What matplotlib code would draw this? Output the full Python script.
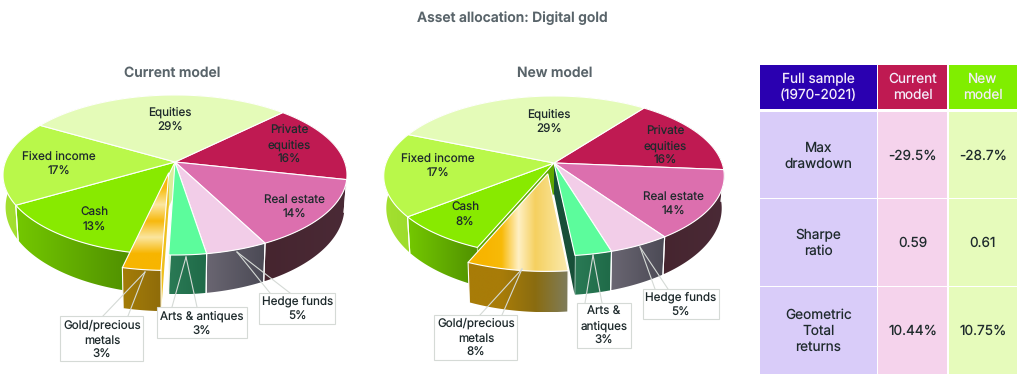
#!/usr/bin/env python3
"""Asset allocation chart: two exploded perspective pies and a small table."""

import numpy as np
import matplotlib
matplotlib.use("Agg")
import matplotlib.pyplot as plt
from matplotlib.colors import LinearSegmentedColormap
from matplotlib.patches import Polygon, Rectangle

plt.rcParams["font.family"] = ["Inter", "DejaVu Sans"]
plt.rcParams["text.hinting"] = "no_hinting"
plt.rcParams["text.hinting_factor"] = 1

# Data
SLICE_NAMES = ["Private\nequities", "Real estate", "Hedge funds", "Arts & antiques",
               "Gold/precious\nmetals", "Cash", "Fixed income", "Equities"]
CURRENT_VALUES = [16, 14, 5, 3, 3, 13, 17, 29]
NEW_VALUES = [16, 14, 5, 3, 8, 8, 17, 29]

TABLE_HEADER = ["Full sample\n(1970-2021)", "Current\nmodel", "New\nmodel"]
TABLE_ROWS = ["Max\ndrawdown", "Sharpe\nratio", "Geometric\nTotal\nreturns"]
TABLE_CURRENT = ["-29.5%", "0.59", "10.44%"]
TABLE_NEW = ["-28.7%", "0.61", "10.75%"]

# Styles
TOP_COLORS = ["#bf1a52", "#dc6fae", "#f2cde8", "#5cfc9c", "#f7b500", "#88ea00", "#b9f84a", "#e4fbb8"]
WALL_COLORS = [
    ["#47272f", "#47272f"],
    ["#4a2a36", "#46252f"],
    ["#4b4a55", "#6a6672"],
    ["#1f6a48", "#2a7a55"],
    ["#8f6c0a", "#a57d08"],
    ["#4f8f00", "#74c800"],
    ["#9cdc2c", "#a4e030"],
    ["#c0d890", "#c0d890"],
]
TEXT_DARK = "#1e2a2c"
TITLE_GREY = "#59646a"
BOX_EDGE = "#d5dad6"
K = 0.1625  # perspective strength
GOLD = 4    # index of the exploded slice
EXPLODE = (-0.036, -0.135)


def project(u, v, pie):
    """Pie plane (unit circle) to pixel position."""
    w = 1 + K * v
    return pie["cx"] + pie["rx"] * u / w, pie["cy"] - pie["ry"] * v / w


def drop(x, y, pie):
    """Same point on the underside of the pie."""
    return pie["cx"] + (x - pie["cx"]) * 0.985, y + 31 + 0.09 * (y - pie["cy"])


def edges(values, start):
    return start - np.cumsum([0] + list(values)) * 3.6


def arc(a, b, pie, shift=(0, 0), n=60):
    t = np.radians(np.linspace(a, b, n))
    return project(np.cos(t) + shift[0], np.sin(t) + shift[1], pie)


def ramp_fill(ax, pts, colors, axis, zorder):
    """Gradient image clipped to a polygon."""
    x0, x1 = pts[:, 0].min(), pts[:, 0].max()
    y0, y1 = pts[:, 1].min(), pts[:, 1].max()
    cmap = LinearSegmentedColormap.from_list("ramp", colors)
    ramp = np.linspace(0, 1, 256)
    grid = ramp[:, None] if axis == "y" else ramp[None, :]
    im = ax.imshow(cmap(grid), extent=(x0, x1, y1, y0), aspect="auto", zorder=zorder,
                   interpolation="bilinear")
    im.set_clip_path(Polygon(pts, transform=ax.transData))


def draw_wall(ax, a, b, colors, pie, shift=(0, 0), zorder=2):
    """Outer wall of one slice; colors run from screen right to screen left."""
    x, y = arc(a, b, pie, shift, 60)
    xb, yb = drop(x, y, pie)
    pts = np.vstack([np.column_stack([x, y]), np.column_stack([xb, yb])[::-1]])
    ramp_fill(ax, pts, colors[::-1], "x", zorder)
    for i in (0, -1):
        ax.plot([x[i], xb[i]], [y[i], yb[i]], color="white", lw=0.8, zorder=zorder + 0.1)


def draw_cut(ax, angle, color, pie, shift=(0, 0), zorder=2.5):
    """Inner face of a slice, seen where the gold slice has moved away."""
    t = np.radians(angle)
    hx, hy = project(shift[0], shift[1], pie)
    x, y = project(np.cos(t) + shift[0], np.sin(t) + shift[1], pie)
    pts = [(hx, hy), (x, y), drop(x, y, pie), drop(hx, hy, pie)]
    ax.add_patch(Polygon(pts, facecolor=color, edgecolor="none", zorder=zorder))


def wedge_points(a, b, pie, shift=(0, 0)):
    x, y = arc(a, b, pie, shift)
    hx, hy = project(shift[0], shift[1], pie)
    return np.vstack([[hx, hy], np.column_stack([x, y])])


def draw_box(ax, box, anchor, feet):
    x0, x1, y0, y1 = box
    for fx, fy in feet:
        ax.plot([anchor[0], fx], [anchor[1], fy], color=BOX_EDGE, lw=0.8, zorder=6)
    ax.add_patch(Rectangle((x0, y0), x1 - x0, y1 - y0, facecolor="white",
                           edgecolor=BOX_EDGE, linewidth=0.8, zorder=7))


def draw_pie(ax, values, pie):
    ang = edges(values, pie["start"])
    # walls of the slices that stay in place
    for i in range(len(values)):
        if i != GOLD:
            draw_wall(ax, ang[i], ang[i + 1], WALL_COLORS[i], pie)
    draw_cut(ax, ang[GOLD], pie["arts_cut"], pie)
    draw_cut(ax, ang[GOLD + 1], pie["cash_cut"], pie)
    for i in range(len(values)):
        if i == GOLD:
            continue
        ax.add_patch(Polygon(wedge_points(ang[i], ang[i + 1], pie), facecolor=TOP_COLORS[i],
                             edgecolor="white", linewidth=0.8, zorder=3))
    # exploded gold slice
    draw_cut(ax, ang[GOLD], "#efc01c", pie, EXPLODE, zorder=3.5)
    draw_wall(ax, ang[GOLD], ang[GOLD + 1], pie["gold_wall"], pie, EXPLODE, zorder=4)
    gold_pts = wedge_points(ang[GOLD], ang[GOLD + 1], pie, EXPLODE)
    ramp_fill(ax, gold_pts, pie["gold"], pie["gold_axis"], 5)
    ax.add_patch(Polygon(gold_pts, facecolor="none", edgecolor="white", linewidth=0.8, zorder=5.1))

    ax.text(pie["cx"] + pie["title_dx"], 73, pie["title"], ha="center", va="center",
            fontsize=10, fontweight="semibold", color=TITLE_GREY)
    for name, val, (x, y), box, anchor, feet in zip(SLICE_NAMES, values, pie["labels"], pie["boxes"],
                                                    pie["anchors"], pie["feet"]):
        if box is not None:
            draw_box(ax, box, anchor, feet)
        label = pie["names"].get(name, name)
        ax.text(x, y, f"{label}\n{val}%", ha="center", va="center", fontsize=8.4,
                color=TEXT_DARK, linespacing=1.42, zorder=8)


CURRENT_PIE = dict(
    cx=175, cy=162, rx=169.7, ry=77.9, start=45, title="Current model", title_dx=-3, names={},
    arts_cut="#eaf3e2", cash_cut="#d8ee9a",
    gold_axis="y",
    gold=["#f7b500", "#f8bd10", "#fce7a0", "#f7b80c", "#fbe6a0", "#f7b500", "#f7b500"],
    gold_wall=["#8f6c0a", "#a57d08"],
    labels=[(289, 145), (294, 207), (298, 309), (202, 324), (102, 340), (94, 220), (59, 164), (170, 120)],
    boxes=[None, None, (259, 335, 293, 324), (157, 247, 307, 338), (60, 143, 316, 361), None, None, None],
    anchors=[None, None, (237, 252), (186, 257), (145, 272), None, None, None],
    feet=[None, None, [(270, 293), (290, 293)], [(172, 307), (197, 307)], [(103, 316), (128, 316)],
          None, None, None],
)

NEW_PIE = dict(
    cx=554, cy=163, rx=168, ry=77.9, start=52.8, title="New model", title_dx=1,
    names={"Arts & antiques": "Arts &\nantiques"},
    arts_cut="#174f38", cash_cut="#5fa800",
    gold_axis="x",
    gold=["#f7b500", "#f7b500", "#f8ba08", "#fff0c4", "#f5d060", "#f8de88", "#fbeab0"],
    gold_wall=["#7e7d5e", "#8a6c10", "#a87c08", "#a87c08"],
    labels=[(665, 146), (673, 204), (681, 305), (604, 326), (476, 338), (465, 215), (438, 166), (549, 122)],
    boxes=[None, None, (643, 719, 289, 319), (577, 631, 303, 348), (434, 517, 315, 360), None, None, None],
    anchors=[None, None, (640, 247), (593, 255), (522, 269), None, None, None],
    feet=[None, None, [(655, 289), (668, 289)], [(585, 303), (602, 303)], [(480, 315), (502, 315)],
          None, None, None],
)


def draw_table(ax):
    xs = [(760, 877), (878, 947), (949, 1017)]
    ys = [(112, 198), (199, 286), (287, 374)]
    header_fill = ["#2a00b0", "#bf1a52", "#80ee00"]
    body_fill = ["#d9ccf9", "#f5d3ec", "#e6fbbb"]
    for (x0, x1), fill, label in zip(xs, header_fill, TABLE_HEADER):
        ax.add_patch(Rectangle((x0, 65), x1 - x0, 44, facecolor=fill, edgecolor="none"))
        ax.text((x0 + x1) / 2, 87, label, ha="center", va="center", fontsize=9.8,
                color="#f4ecfa", linespacing=1.3)
    for col, (x0, x1) in enumerate(xs):
        cells = [TABLE_ROWS, TABLE_CURRENT, TABLE_NEW][col]
        for (y0, y1), cell in zip(ys, cells):
            ax.add_patch(Rectangle((x0, y0), x1 - x0, y1 - y0, facecolor=body_fill[col], edgecolor="none"))
            ax.text((x0 + x1) / 2, (y0 + y1) / 2 + 1, cell, ha="center", va="center", fontsize=9.8,
                    color=TEXT_DARK, linespacing=1.3)


def main():
    fig = plt.figure(figsize=(10.24, 3.8), dpi=100)
    ax = fig.add_axes([0, 0, 1, 1])

    draw_pie(ax, CURRENT_VALUES, CURRENT_PIE)
    draw_pie(ax, NEW_VALUES, NEW_PIE)
    draw_table(ax)
    ax.text(512, 18, "Asset allocation: Digital gold", ha="center", va="center",
            fontsize=10, fontweight="semibold", color=TITLE_GREY)

    ax.set_xlim(0, 1024)
    ax.set_ylim(380, 0)
    ax.axis("off")
    fig.savefig("out.png", dpi=100)


if __name__ == "__main__":
    main()
